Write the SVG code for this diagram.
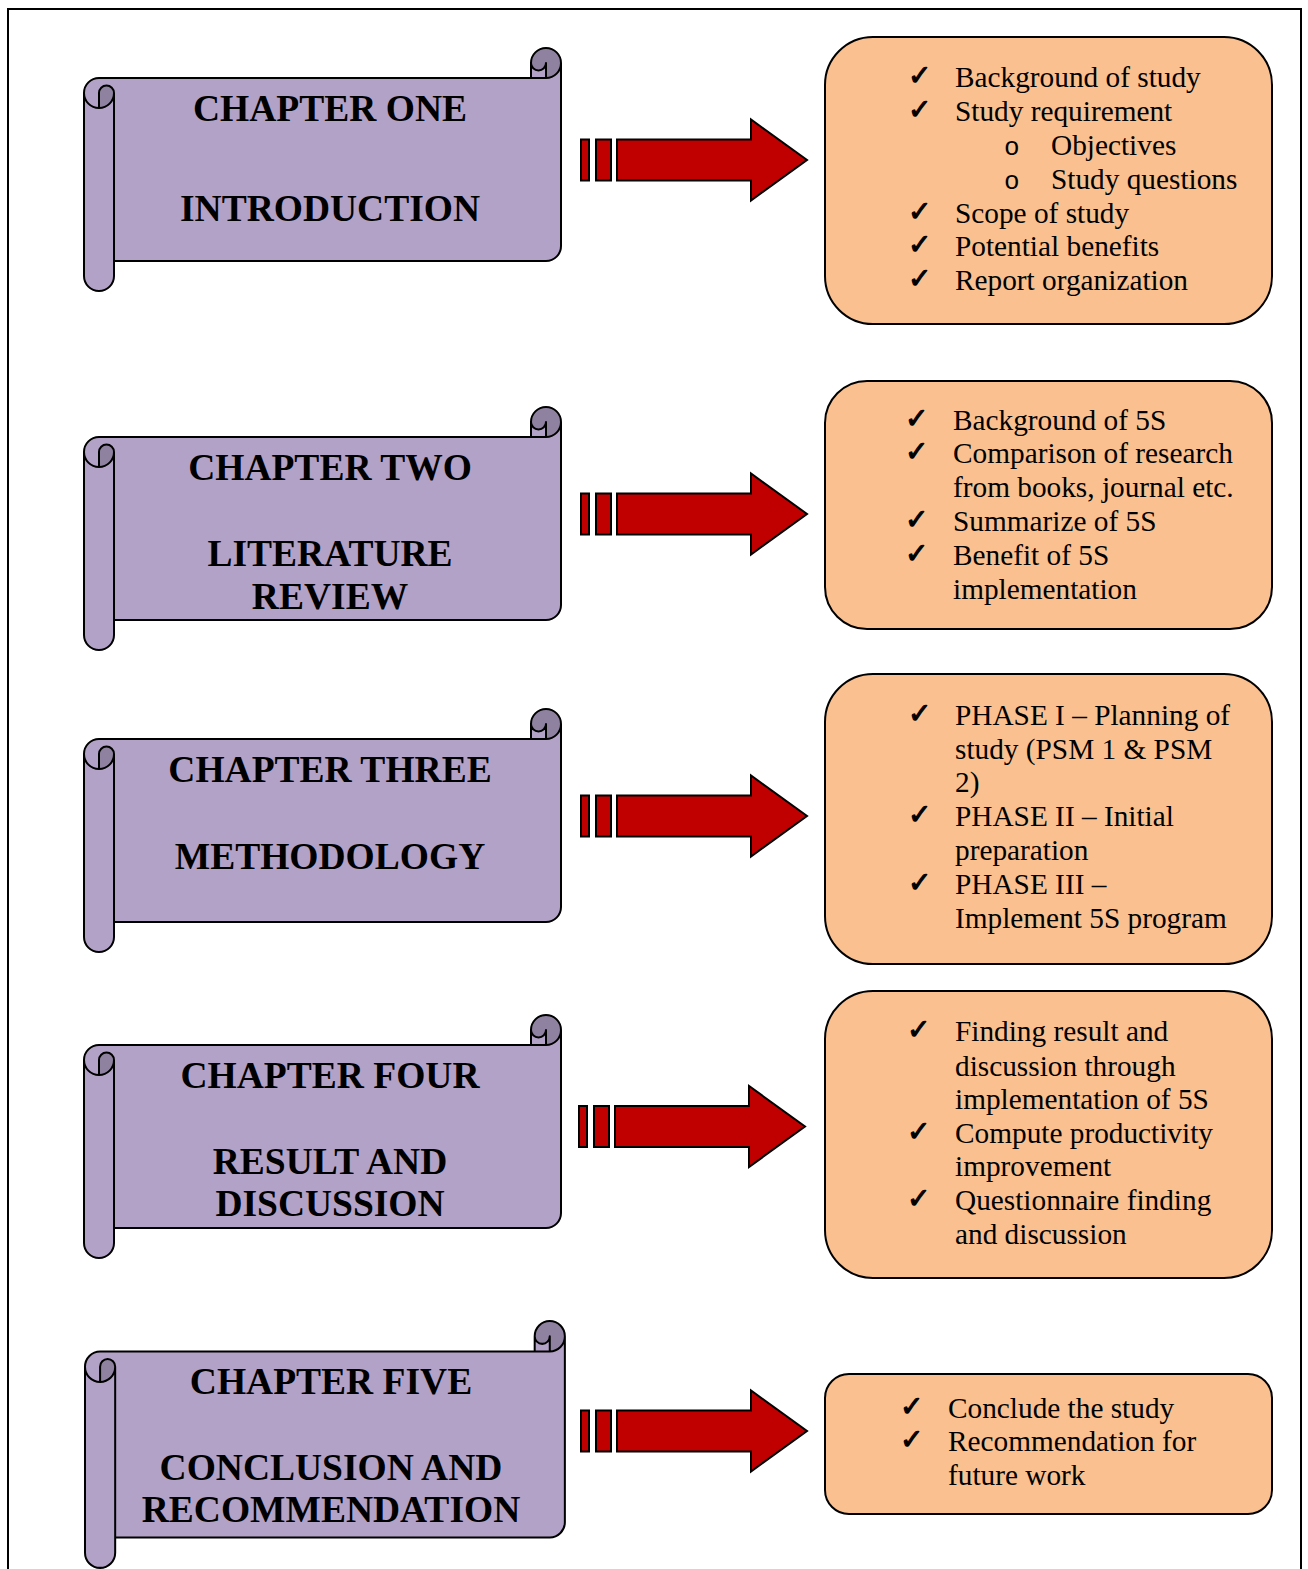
<svg xmlns="http://www.w3.org/2000/svg" width="1308" height="1569" viewBox="0 0 1308 1569">
<style>
.border{fill:none;stroke:#000;stroke-width:2}
.sl{fill:#b3a2c7;stroke:none}
.sd{fill:#8f82a0;stroke:none}
.so{fill:none;stroke:#000;stroke-width:2;stroke-linejoin:round}
.head{font-family:"Liberation Serif","Times New Roman",serif;font-weight:bold;font-size:37.5px;text-anchor:middle;fill:#000}
.box{fill:#fac090;stroke:#000;stroke-width:2}
.t{font-family:"Liberation Serif","Times New Roman",serif;font-size:29.3px;fill:#000}
.ck{font-family:"DejaVu Sans",sans-serif;font-size:28px;fill:#000;stroke:#000;stroke-width:1.1}
.ob{font-family:"Liberation Mono","Courier New",monospace;font-size:26px;fill:#000}
.ar{fill:#c00000;stroke:#000;stroke-width:2;stroke-linejoin:miter}
</style>
<defs>
<g id="scroll">
<path class="sl" d="M0,45 A15 15 0 0 1 15,30 L447,30 L447,15 A15 15 0 0 1 477,15 L477,198 A15 15 0 0 1 462,213 L30,213 L30,228 A15 15 0 0 1 0,228 Z"/>
<path class="sd" d="M15,60 A15 15 0 0 0 30,45 A7.5 7.5 0 0 0 15,45 Z M462,30 A15 15 0 1 0 447,15 A7.5 7.5 0 0 0 462,15 Z"/>
<path class="so" d="M0,45 A15 15 0 0 1 15,30 L447,30 L447,15 A15 15 0 0 1 477,15 L477,198 A15 15 0 0 1 462,213 L30,213 L30,228 A15 15 0 0 1 0,228 Z M447,30 L462,30 A15 15 0 0 0 477,15 M462,30 L462,15 A7.5 7.5 0 0 1 447,15 M15,60 L15,45 A7.5 7.5 0 0 1 30,45 A15 15 0 0 1 0,45 M30,45 L30,213"/>
</g>
<g id="arrow">
<rect class="ar" x="581" y="-20.5" width="8" height="41"/>
<rect class="ar" x="596" y="-20.5" width="15" height="41"/>
<polygon class="ar" points="617,-20.5 751,-20.5 751,-40.5 807,0 751,40.5 751,20.5 617,20.5"/>
</g>
</defs>
<rect width="1308" height="1569" fill="#fff"/>
<path class="border" d="M8,1569 L8,9 L1301,9 L1301,1569"/>

<g id="connectors">
<use href="#arrow" transform="translate(0,160)"/>
<use href="#arrow" transform="translate(0,514)"/>
<use href="#arrow" transform="translate(0,816)"/>
<use href="#arrow" transform="translate(-2,1126.5)"/>
<use href="#arrow" transform="translate(0,1431)"/>
</g>

<g id="chapter1">
<use href="#scroll" transform="translate(84,48)"/>
<text class="head" x="330" y="121">CHAPTER ONE</text>
<text class="head" x="330" y="221">INTRODUCTION</text>
</g>
<g id="chapter2">
<use href="#scroll" transform="translate(84,407)"/>
<text class="head" x="330" y="480">CHAPTER TWO</text>
<text class="head" x="330" y="566">LITERATURE</text>
<text class="head" x="330" y="609">REVIEW</text>
</g>
<g id="chapter3">
<use href="#scroll" transform="translate(84,709)"/>
<text class="head" x="330" y="782">CHAPTER THREE</text>
<text class="head" x="330" y="869">METHODOLOGY</text>
</g>
<g id="chapter4">
<use href="#scroll" transform="translate(84,1015)"/>
<text class="head" x="330" y="1088">CHAPTER FOUR</text>
<text class="head" x="330" y="1174">RESULT AND</text>
<text class="head" x="330" y="1216">DISCUSSION</text>
</g>
<g id="chapter5">
<use href="#scroll" transform="translate(85,1321) scale(1.006,1.016)"/>
<text class="head" x="331" y="1394">CHAPTER FIVE</text>
<text class="head" x="331" y="1480">CONCLUSION AND</text>
<text class="head" x="331" y="1522">RECOMMENDATION</text>
</g>

<g id="box1">
<rect class="box" x="825" y="37" width="447" height="287" rx="48" ry="48"/>
<text class="ck" x="908" y="85">✓</text><text class="t" x="955" y="87">Background of study</text>
<text class="ck" x="908" y="119">✓</text><text class="t" x="955" y="121">Study requirement</text>
<text class="ob" x="1004" y="155">o</text><text class="t" x="1051" y="155">Objectives</text>
<text class="ob" x="1004" y="189">o</text><text class="t" x="1051" y="189">Study questions</text>
<text class="ck" x="908" y="221">✓</text><text class="t" x="955" y="223">Scope of study</text>
<text class="ck" x="908" y="254">✓</text><text class="t" x="955" y="256">Potential benefits</text>
<text class="ck" x="908" y="288">✓</text><text class="t" x="955" y="290">Report organization</text>
</g>
<g id="box2">
<rect class="box" x="825" y="381" width="447" height="248" rx="42" ry="42"/>
<text class="ck" x="905" y="428">✓</text><text class="t" x="953" y="430">Background of 5S</text>
<text class="ck" x="905" y="461">✓</text><text class="t" x="953" y="463">Comparison of research</text>
<text class="t" x="953" y="497">from books, journal etc.</text>
<text class="ck" x="905" y="529">✓</text><text class="t" x="953" y="531">Summarize of 5S</text>
<text class="ck" x="905" y="563">✓</text><text class="t" x="953" y="565">Benefit of 5S</text>
<text class="t" x="953" y="599">implementation</text>
</g>
<g id="box3">
<rect class="box" x="825" y="674" width="447" height="290" rx="48" ry="48"/>
<text class="ck" x="908" y="723">✓</text><text class="t" x="955" y="725">PHASE I – Planning of</text>
<text class="t" x="955" y="759">study (PSM 1 &amp; PSM</text>
<text class="t" x="955" y="792">2)</text>
<text class="ck" x="908" y="824">✓</text><text class="t" x="955" y="826">PHASE II – Initial</text>
<text class="t" x="955" y="860">preparation</text>
<text class="ck" x="908" y="892">✓</text><text class="t" x="955" y="894">PHASE III –</text>
<text class="t" x="955" y="928">Implement 5S program</text>
</g>
<g id="box4">
<rect class="box" x="825" y="991" width="447" height="287" rx="48" ry="48"/>
<text class="ck" x="907" y="1039">✓</text><text class="t" x="955" y="1041">Finding result and</text>
<text class="t" x="955" y="1076">discussion through</text>
<text class="t" x="955" y="1109">implementation of 5S</text>
<text class="ck" x="907" y="1141">✓</text><text class="t" x="955" y="1143">Compute productivity</text>
<text class="t" x="955" y="1176">improvement</text>
<text class="ck" x="907" y="1208">✓</text><text class="t" x="955" y="1210">Questionnaire finding</text>
<text class="t" x="955" y="1244">and discussion</text>
</g>
<g id="box5">
<rect class="box" x="825" y="1374" width="447" height="140" rx="24" ry="24"/>
<text class="ck" x="900" y="1416">✓</text><text class="t" x="948" y="1418">Conclude the study</text>
<text class="ck" x="900" y="1449">✓</text><text class="t" x="948" y="1451">Recommendation for</text>
<text class="t" x="948" y="1485">future work</text>
</g>
</svg>
